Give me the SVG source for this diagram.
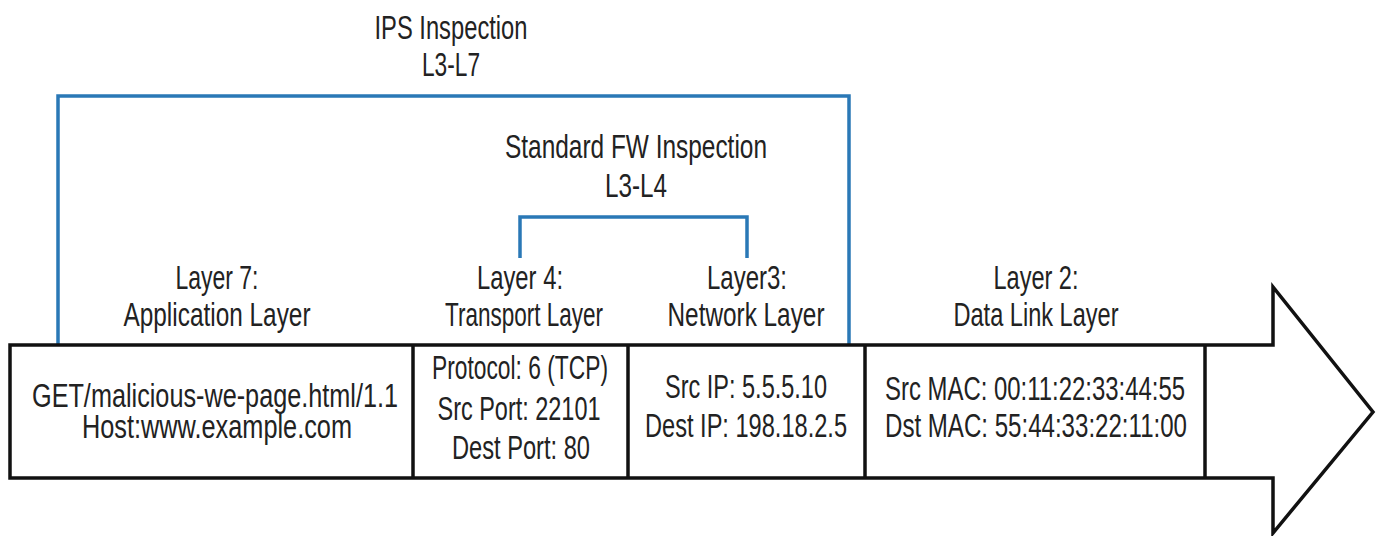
<svg xmlns="http://www.w3.org/2000/svg" width="1377" height="536" viewBox="0 0 1377 536">
<style>
text{font-family:"Liberation Sans Narrow","Liberation Sans",Arial,sans-serif;font-size:33px;fill:#222;text-anchor:middle}
.blue{fill:none;stroke:#2a78b6;stroke-width:3.5}
.blk{fill:none;stroke:#111;stroke-width:3.5;stroke-linejoin:miter}
</style>
<rect width="1377" height="536" fill="#fff"/>
<g id="connectors">
<polyline class="blue" points="58,345 58,96 849,96 849,345"/>
<polyline class="blue" points="520,258 520,217 747,217 747,258"/>
</g>
<g id="ips-label">
<text x="451" y="39" textLength="153" lengthAdjust="spacingAndGlyphs">IPS Inspection</text>
<text x="451" y="76" textLength="58" lengthAdjust="spacingAndGlyphs">L3-L7</text>
</g>
<g id="fw-label">
<text x="636" y="158" textLength="262" lengthAdjust="spacingAndGlyphs">Standard FW Inspection</text>
<text x="636" y="197" textLength="62" lengthAdjust="spacingAndGlyphs">L3-L4</text>
</g>
<g id="arrow">
<path class="blk" fill="#fff" d="M10,345 L1273,345 L1273,287 L1373,412 L1273,533 L1273,478 L10,478 Z"/>
</g>
<g id="application">
<text x="217" y="289" textLength="83" lengthAdjust="spacingAndGlyphs">Layer 7:</text>
<text x="217" y="326" textLength="187" lengthAdjust="spacingAndGlyphs">Application Layer</text>
<text x="215" y="407" textLength="366" lengthAdjust="spacingAndGlyphs">GET/malicious-we-page.html/1.1</text>
<text x="217" y="438" textLength="270" lengthAdjust="spacingAndGlyphs">Host:www.example.com</text>
</g>
<g id="transport">
<line class="blk" x1="413" y1="345" x2="413" y2="478"/>
<text x="520" y="289" textLength="86" lengthAdjust="spacingAndGlyphs">Layer 4:</text>
<text x="524" y="326" textLength="158" lengthAdjust="spacingAndGlyphs">Transport Layer</text>
<text x="520" y="379" textLength="176" lengthAdjust="spacingAndGlyphs">Protocol: 6 (TCP)</text>
<text x="519" y="420" textLength="163" lengthAdjust="spacingAndGlyphs">Src Port: 22101</text>
<text x="521" y="459" textLength="138" lengthAdjust="spacingAndGlyphs">Dest Port: 80</text>
</g>
<g id="network">
<line class="blk" x1="628" y1="345" x2="628" y2="478"/>
<text x="747" y="289" textLength="80" lengthAdjust="spacingAndGlyphs">Layer3:</text>
<text x="746" y="326" textLength="157" lengthAdjust="spacingAndGlyphs">Network Layer</text>
<text x="746" y="398" textLength="162" lengthAdjust="spacingAndGlyphs">Src IP: 5.5.5.10</text>
<text x="746" y="437" textLength="202" lengthAdjust="spacingAndGlyphs">Dest IP: 198.18.2.5</text>
</g>
<g id="datalink">
<line class="blk" x1="865" y1="345" x2="865" y2="478"/>
<line class="blk" x1="1205" y1="345" x2="1205" y2="478"/>
<text x="1036" y="289" textLength="85" lengthAdjust="spacingAndGlyphs">Layer 2:</text>
<text x="1036" y="326" textLength="165" lengthAdjust="spacingAndGlyphs">Data Link Layer</text>
<text x="1035" y="400" textLength="300" lengthAdjust="spacingAndGlyphs">Src MAC: 00:11:22:33:44:55</text>
<text x="1036" y="437" textLength="302" lengthAdjust="spacingAndGlyphs">Dst MAC: 55:44:33:22:11:00</text>
</g>
</svg>
